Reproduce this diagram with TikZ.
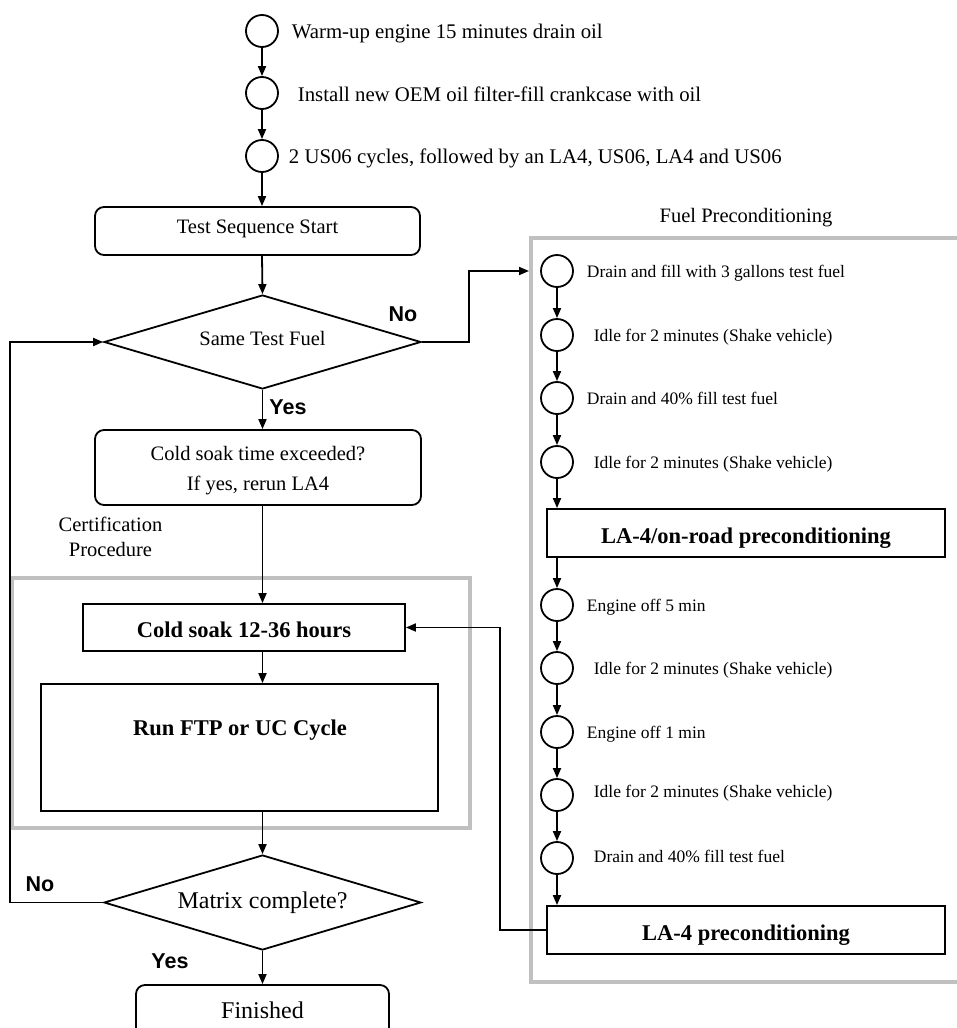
\documentclass[tikz,border=0pt]{standalone}
\usepackage{fontspec}
\setmainfont{Liberation Serif}
\newfontfamily\labelfont{Liberation Sans}
\usetikzlibrary{shapes.geometric,arrows.meta,calc}
\definecolor{grp}{HTML}{C0C0C0}
\begin{document}
\begin{tikzpicture}[x=1pt,y=-1pt,line width=1.8pt,
  arr/.style={-{Triangle[length=10pt,width=8pt]}},
  stepcirc/.style={circle,draw,minimum size=32pt,inner sep=0pt},
  stepnote/.style={anchor=west,inner sep=0pt,text height=14pt,text depth=0pt,font=\fontsize{20.8}{24}\selectfont},
  fuelnote/.style={anchor=west,inner sep=0pt,text height=12pt,text depth=0pt,font=\fontsize{17.5}{21}\selectfont},
  roundbox/.style={draw,rounded corners=9pt,inner sep=0pt,align=center,font=\fontsize{20.5}{30}\selectfont},
  boldbox/.style={draw,inner sep=0pt,text height=20pt,text depth=0pt,font=\bfseries\fontsize{22.5}{27}\selectfont},
  decision/.style={diamond,draw,inner sep=0pt,aspect=3.37},
  yn/.style={inner sep=0pt,font=\labelfont\bfseries\fontsize{21.5}{25}\selectfont},
  plain/.style={inner sep=0pt,align=center,font=\fontsize{20.5}{25}\selectfont},
  group/.style={draw=grp,line width=4pt,inner sep=0pt}]
\useasboundingbox (0,0) rectangle (956,1028);

% group frames
\node[group,minimum width=458pt,minimum height=250pt] (cert) at (241,703) {};
\node[group,minimum width=431pt,minimum height=744pt] (fuel) at (746.5,610) {};

% top sequence
\node[stepcirc] (t1) at (262,31) {};
\node[stepcirc] (t2) at (262,93) {};
\node[stepcirc] (t3) at (262,156) {};
\node[stepnote] (l1) at (291,31) {Warm-up engine 15 minutes drain oil};
\node[stepnote] (l2) at (297,94) {Install new OEM oil filter-fill crankcase with oil};
\node[stepnote] (l3) at (288,156) {2 US06 cycles, followed by an LA4, US06, LA4 and US06};

\node[roundbox,minimum width=325pt,minimum height=48pt,text depth=9pt] (start) at (257.5,231) {Test Sequence Start};
\node[decision,minimum width=317pt,minimum height=94pt,text height=6pt,text depth=0pt,font=\fontsize{20.5}{24}\selectfont] (d1) at (262.5,342) {Same Test Fuel};
\node[draw,rounded corners=9pt,minimum width=326pt,minimum height=75pt] (coldq) at (258,467.5) {};
\node[plain,font=\fontsize{20.5}{30}\selectfont] (coldtxt) at (258,471) {Cold soak time exceeded?\\If yes, rerun LA4};
\node[plain] (certlbl) at (110.5,537) {Certification\\Procedure};

\node[boldbox,minimum width=322pt,minimum height=47pt] (soak) at (244,627.5) {Cold soak 12-36 hours};
\node[draw,minimum width=397pt,minimum height=127pt,inner sep=0pt] (run) at (239.5,747.5) {};
\node[inner sep=0pt,font=\bfseries\fontsize{22.5}{27}\selectfont] (runlbl) at (240,730) {Run FTP or UC Cycle};

\node[decision,minimum width=317pt,minimum height=95pt,font=\fontsize{24}{28}\selectfont] (d2) at (262.5,902.5) {Matrix complete?};
\node[roundbox,minimum width=253pt,minimum height=55pt,font=\fontsize{24}{28}\selectfont,text depth=5pt] (fin) at (262.5,1012.5) {Finished};

\node[yn] (no1) at (403,314) {No};
\node[yn] (yes1) at (288,407) {Yes};
\node[yn] (no2) at (40,884) {No};
\node[yn] (yes2) at (170,961) {Yes};

% fuel preconditioning
\node[plain] (fuellbl) at (746,218) {Fuel Preconditioning};
\node[stepcirc] (f1) at (557,271) {};
\node[stepcirc] (f2) at (557,335) {};
\node[stepcirc] (f3) at (557,398) {};
\node[stepcirc] (f4) at (557,462) {};
\node[boldbox,minimum width=398pt,minimum height=48pt] (pa) at (746,533) {LA-4/on-road preconditioning};
\node[stepcirc] (f5) at (557,605) {};
\node[stepcirc] (f6) at (557,668) {};
\node[stepcirc] (f7) at (557,732) {};
\node[stepcirc] (f8) at (557,795) {};
\node[stepcirc] (f9) at (557,858) {};
\node[boldbox,minimum width=398pt,minimum height=48pt] (pb) at (746,930) {LA-4 preconditioning};

\node[fuelnote] (n1) at (586,271) {Drain and fill with 3 gallons test fuel};
\node[fuelnote] (n2) at (593,335) {Idle for 2 minutes (Shake vehicle)};
\node[fuelnote] (n3) at (586,398) {Drain and 40\% fill test fuel};
\node[fuelnote] (n4) at (593,462) {Idle for 2 minutes (Shake vehicle)};
\node[fuelnote] (n5) at (586,605) {Engine off 5 min};
\node[fuelnote] (n6) at (593,668) {Idle for 2 minutes (Shake vehicle)};
\node[fuelnote] (n7) at (586,732) {Engine off 1 min};
\node[fuelnote] (n8) at (593,791) {Idle for 2 minutes (Shake vehicle)};
\node[fuelnote] (n9) at (593,856) {Drain and 40\% fill test fuel};

% connectors, main column
\draw[arr] (t1) -- (t2);
\draw[arr] (t2) -- (t3);
\draw[arr] (t3.south) -- (t3.south |- start.north);
\draw[arr] (t3.south |- start.south) -- (d1.north);
\draw[arr] (d1.south) -- (d1.south |- coldq.north);
\draw[arr] (d1.south |- coldq.south) -- (d1.south |- soak.north);
\draw[arr] (d1.south |- soak.south) -- (d1.south |- run.north);
\draw[arr] (d1.south |- run.south) -- (d2.north);
\draw[arr] (d2.south) -- (fin.north);

% loops
\coordinate (loopx) at (10,0);
\draw[arr] (d2.west) -- (d2.west -| loopx) -- (d1.west -| loopx) -- (d1.west);
\coordinate (jogx) at (469,0);
\draw[arr] (d1.east) -- (d1.east -| jogx) |- (f1 -| fuel.west);
\coordinate (retx) at (500,0);
\draw[arr] (pb.west) -- (pb.west -| retx) |- (soak.east);

% fuel column
\draw[arr] (f1) -- (f2);
\draw[arr] (f2) -- (f3);
\draw[arr] (f3) -- (f4);
\draw[arr] (f4.south) -- (f4.south |- pa.north);
\draw[arr] (f4.south |- pa.south) -- (f5.north);
\draw[arr] (f5) -- (f6);
\draw[arr] (f6) -- (f7);
\draw[arr] (f7) -- (f8);
\draw[arr] (f8) -- (f9);
\draw[arr] (f9.south) -- (f9.south |- pb.north);
\end{tikzpicture}
\end{document}
